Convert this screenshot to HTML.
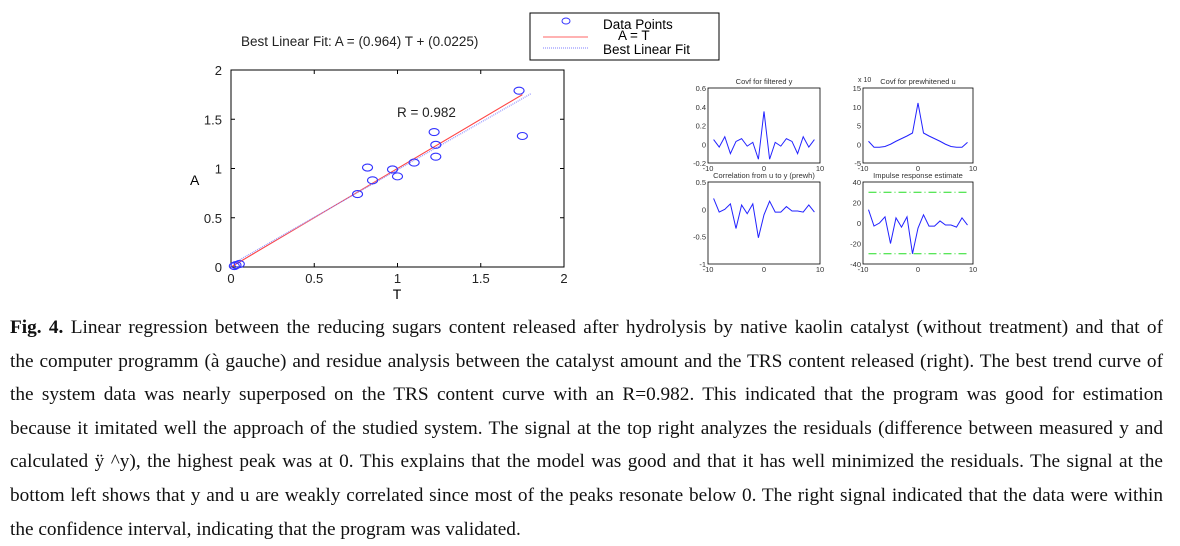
<!DOCTYPE html>
<html><head><meta charset="utf-8"><style>
body{margin:0;width:1180px;height:542px;background:#fff;overflow:hidden;position:relative;font-family:"Liberation Sans",sans-serif}
svg{position:absolute;left:0;top:0}
#cap{position:absolute;left:10px;top:311px;width:1153px;font-family:"Liberation Serif",serif;font-size:19.3px;line-height:33.6px;color:#111}
#cap div{text-align:justify;text-align-last:justify;white-space:nowrap}
#cap div.last{text-align-last:left}
</style></head><body>
<svg id="chart" width="1180" height="300"></svg>
<div id="cap">
<div><b>Fig. 4.</b> Linear regression between the reducing sugars content released after hydrolysis by native kaolin catalyst (without treatment) and that of</div>
<div>the computer programm (à gauche) and residue analysis between the catalyst amount and the TRS content released (right). The best trend curve of</div>
<div>the system data was nearly superposed on the TRS content curve with an R=0.982. This indicated that the program was good for estimation</div>
<div>because it imitated well the approach of the studied system. The signal at the top right analyzes the residuals (difference between measured y and</div>
<div>calculated ÿ ^y), the highest peak was at 0. This explains that the model was good and that it has well minimized the residuals. The signal at the</div>
<div>bottom left shows that y and u are weakly correlated since most of the peaks resonate below 0. The right signal indicated that the data were within</div>
<div class="last">the confidence interval, indicating that the program was validated.</div>
</div>
<script>
const scatterT=[0.02,0.03,0.05,0.76,0.82,0.85,0.97,1.0,1.1,1.22,1.23,1.23,1.73,1.75];
const scatterA=[0.01,0.02,0.03,0.74,1.01,0.88,0.99,0.92,1.06,1.37,1.24,1.12,1.79,1.33];
const fitSlope=0.964, fitIntercept=0.0225;
const mainTicks=[0,0.5,1,1.5,2];
const mainTickLabels=["0","0.5","1","1.5","2"];
const lags=[-9,-8,-7,-6,-5,-4,-3,-2,-1,0,1,2,3,4,5,6,7,8,9];
const covfY=[0.05,-0.03,0.08,-0.1,0.03,0.06,-0.02,0.02,-0.16,0.35,-0.16,0.02,-0.02,0.06,0.03,-0.1,0.08,-0.03,0.05];
const covfU=[0.8,-0.8,-0.8,-0.6,0,0.8,1.5,2.2,3,11,3,2.2,1.5,0.8,0,-0.6,-0.8,-0.8,0.5];
const corrUY=[0.2,-0.05,0,0.1,-0.35,0.08,-0.08,0.1,-0.52,-0.1,0.15,-0.05,-0.05,0.05,-0.03,-0.03,-0.05,0.08,-0.05];
const impulse=[13,-3,0,6,-20,5,-4,6,-30,-5,8,-3,-3,2,-2,-2,-4,5,-2];
const confBound=30;
const NS="http://www.w3.org/2000/svg";
const svg=document.getElementById('chart');
function el(t,a,txt){const e=document.createElementNS(NS,t);for(const k in a)e.setAttribute(k,a[k]);if(txt!==undefined)e.textContent=txt;svg.appendChild(e);return e;}
const L=231,R=564,T=70,B=267;
const sx=v=>L+(v-0)/(2-0)*(R-L), sy=v=>B-(v-0)/(2-0)*(B-T);
let e=el('rect',{x:L,y:T,width:R-L,height:B-T,fill:'none',stroke:'#000','stroke-width':1});

mainTicks.forEach((v,i)=>{
 let t=el('text',{x:sx(v),y:B+16,'font-size':13,'text-anchor':'middle',fill:'#222'},mainTickLabels[i]);
 
 t=el('text',{x:L-9,y:sy(v)+5,'font-size':13,'text-anchor':'end',fill:'#222'},mainTickLabels[i]);
 
 el('line',{x1:sx(v),x2:sx(v),y1:B,y2:B-4,stroke:'#000'});el('line',{x1:sx(v),x2:sx(v),y1:T,y2:T+4,stroke:'#000'});
 el('line',{x1:L,x2:L+4,y1:sy(v),y2:sy(v),stroke:'#000'});el('line',{x1:R,x2:R-4,y1:sy(v),y2:sy(v),stroke:'#000'});
});
e=el('text',{x:397,y:299,'font-size':14,'text-anchor':'middle'},'T');
e=el('text',{x:190,y:185,'font-size':14},'A');
e=el('text',{x:241,y:46,'font-size':13.5,fill:'#222'},'Best Linear Fit:  A = ('+fitSlope+') T + ('+fitIntercept+')');
e=el('text',{x:397,y:117,'font-size':13.5,fill:'#222'},'R = 0.982');
e=el('line',{x1:sx(0),y1:sy(0),x2:sx(1.75),y2:sy(1.75),stroke:'#f44',"stroke-width":1.1});
e=el('line',{x1:sx(0),y1:sy(fitIntercept),x2:sx(1.8),y2:sy(fitSlope*1.8+fitIntercept),stroke:'#99f',"stroke-width":1.3,'stroke-dasharray':'1 1'});
scatterT.forEach((t,i)=>{const c=el('ellipse',{cx:sx(t),cy:sy(scatterA[i]),rx:5,ry:3.5,fill:'none',stroke:'#33f','stroke-width':1.1});
 });
e=el('rect',{x:530,y:13,width:189,height:47,fill:'#fff',stroke:'#000'});
el('ellipse',{cx:566,cy:21,rx:4,ry:3,fill:'none',stroke:'#33f'});
el('line',{x1:543,x2:588,y1:37,y2:37,stroke:'#f66'});
el('line',{x1:543,x2:588,y1:48,y2:48,stroke:'#99f','stroke-dasharray':'1 1','stroke-width':1.3});
e=el('text',{x:603,y:29,'font-size':13.5},'Data Points');
e=el('text',{x:618,y:40,'font-size':13.5},'A = T');
e=el('text',{x:603,y:54,'font-size':13.5},'Best Linear Fit');
function small(x0,x1,y0,y1,ymin,ymax,yt,title,vals,name,conf){
 const fx=v=>x0+(v+10)/20*(x1-x0), fy=v=>y1-(v-ymin)/(ymax-ymin)*(y1-y0);
 let r=el('rect',{x:x0,y:y0,width:x1-x0,height:y1-y0,fill:'none',stroke:'#000','stroke-width':0.8});
 
 [-10,0,10].forEach(v=>{let t=el('text',{x:fx(v),y:y1+8,'font-size':7.5,'text-anchor':'middle',fill:'#333'},String(v));});
 yt.forEach(v=>{let t=el('text',{x:x0-2,y:fy(v)+3,'font-size':7.5,'text-anchor':'end',fill:'#333'},String(v));});
 let t=el('text',{x:(x0+x1)/2,y:y0-4,'font-size':7.5,'text-anchor':'middle',fill:'#333'},title);
 if(conf!==undefined){[conf,-conf].forEach(c=>{let l=el('line',{x1:fx(-9),x2:fx(9),y1:fy(c),y2:fy(c),stroke:'#2d2','stroke-width':1,'stroke-dasharray':'8 3 1 3'});});}
 let p=el('polyline',{points:lags.map((l,i)=>fx(l)+','+fy(vals[i])).join(' '),fill:'none',stroke:'#22f','stroke-width':1});
 
}
small(708,820,88,163,-0.2,0.6,[0.6,0.4,0.2,0,-0.2],'Covf for filtered y',covfY,'covf-y');
small(863,973,88,163,-5,15,[15,10,5,0,-5],'Covf for prewhitened u',covfU,'covf-u');
el('text',{x:858,y:82,'font-size':7,fill:'#333'},'x 10');
small(708,820,182,264,-1,0.5,[0.5,0,-0.5,-1],'Correlation from u to y (prewh)',corrUY,'correlation');
small(863,973,182,264,-40,40,[40,20,0,-20,-40],'Impulse response estimate',impulse,'impulse',confBound);
</script>
</body></html>
